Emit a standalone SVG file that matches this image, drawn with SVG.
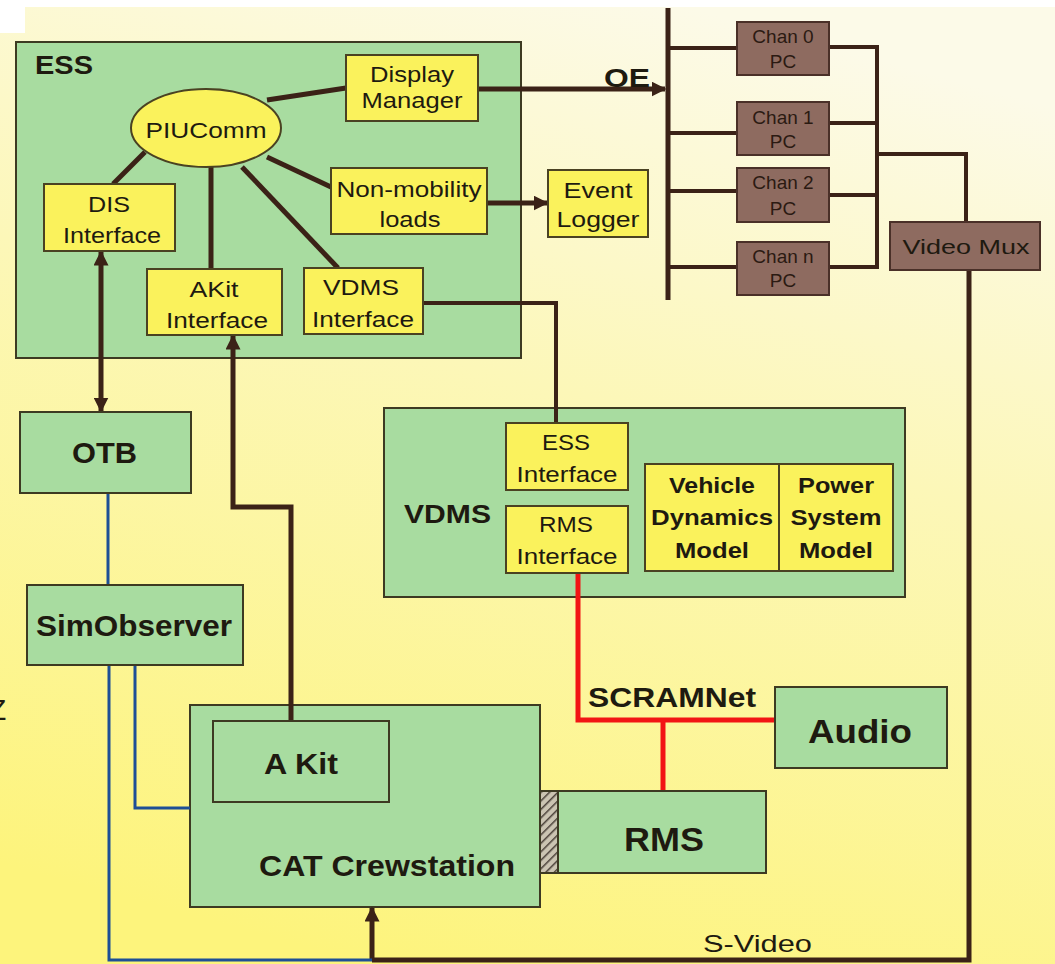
<svg xmlns="http://www.w3.org/2000/svg" width="1055" height="964" viewBox="0 0 1055 964">
<defs>
<linearGradient id="bg" x1="0.65" y1="0" x2="0.35" y2="1">
<stop offset="0" stop-color="#fcfae8"/>
<stop offset="0.4" stop-color="#fcf7b8"/>
<stop offset="1" stop-color="#fdf47c"/>
</linearGradient>
<pattern id="hatch" width="6" height="6" patternUnits="userSpaceOnUse" patternTransform="rotate(45)">
<rect width="6" height="6" fill="#cbc4b2"/>
<line x1="0" y1="0" x2="0" y2="6" stroke="#4a4038" stroke-width="3"/>
</pattern>
<marker id="ah" viewBox="0 0 10 10" refX="9" refY="5" markerWidth="3" markerHeight="3" orient="auto-start-reverse" markerUnits="strokeWidth">
<path d="M0,0 L10,5 L0,10 z" fill="#3b2217"/>
</marker>
<style>
.g{fill:#a8dca0;stroke:#3d3a22;stroke-width:2}
.y{fill:#faf25c;stroke:#4a4222;stroke-width:2}
.c{fill:#8e6b60;stroke:#4a3028;stroke-width:2}
.t{font-family:"Liberation Sans",Arial,sans-serif;fill:#1e1a10}
.b{font-weight:bold}
.m{text-anchor:middle}
.n{font-size:22px;text-anchor:middle}
.ch{font-size:19px;text-anchor:middle;fill:#2b1a12}
.k{stroke:#3b2217;stroke-width:5;fill:none}
.k4{stroke:#3b2217;stroke-width:4;fill:none}
.bl{stroke:#1d4f96;stroke-width:3;fill:none}
.r{stroke:#f21414;stroke-width:5;fill:none}
</style>
</defs>
<rect width="1055" height="964" fill="#ffffff"/>
<rect x="0" y="7" width="1055" height="957" fill="url(#bg)"/>
<rect x="0" y="0" width="25" height="33" fill="#ffffff"/>
<text class="t" x="-12" y="720" font-size="30">Z</text>

<g id="ESS">
<rect class="g" x="16" y="42" width="505" height="316"/>
<text class="t b" x="35" y="74" font-size="26" textLength="58" lengthAdjust="spacingAndGlyphs">ESS</text>
</g>
<g id="VDMS">
<rect class="g" x="384" y="408" width="521" height="189"/>
<text class="t b" x="404" y="523" font-size="26" textLength="87" lengthAdjust="spacingAndGlyphs">VDMS</text>
</g>
<g id="CATCrewstation">
<rect class="g" x="190" y="705" width="350" height="202"/>
<text class="t b" x="259" y="876" font-size="30" textLength="256" lengthAdjust="spacingAndGlyphs">CAT Crewstation</text>
</g>

<g id="connectors">
<line class="k" x1="267" y1="100" x2="346" y2="88"/>
<line class="k" x1="145" y1="152" x2="113" y2="184"/>
<line class="k" x1="211" y1="166" x2="211" y2="269"/>
<line class="k" x1="242" y1="167" x2="338" y2="268"/>
<line class="k" x1="267" y1="157" x2="331" y2="187"/>
<line class="k" x1="478" y1="89" x2="665" y2="89" marker-end="url(#ah)"/>
<line class="k" x1="487" y1="203" x2="547" y2="203" marker-end="url(#ah)"/>
<polyline class="k4" points="423,303 556,303 556,423"/>
<line class="k" x1="101" y1="252" x2="101" y2="411" marker-start="url(#ah)" marker-end="url(#ah)"/>
<polyline class="k" points="291,721 291,507 233,507 233,336" marker-end="url(#ah)"/>
<line class="k" x1="668" y1="8" x2="668" y2="300"/>
<line class="k4" x1="668" y1="48" x2="737" y2="48"/>
<line class="k4" x1="668" y1="133" x2="737" y2="133"/>
<line class="k4" x1="668" y1="191" x2="737" y2="191"/>
<line class="k4" x1="668" y1="267" x2="737" y2="267"/>
<line class="k4" x1="829" y1="47" x2="877" y2="47"/>
<line class="k4" x1="829" y1="123" x2="877" y2="123"/>
<line class="k4" x1="829" y1="195" x2="877" y2="195"/>
<line class="k4" x1="829" y1="267" x2="877" y2="267"/>
<line class="k4" x1="877" y1="45" x2="877" y2="269"/>
<polyline class="k4" points="877,154 966,154 966,222"/>
<polyline class="k" points="969,270 969,960 372,960"/>
<line class="k" x1="372" y1="960" x2="372" y2="908" marker-end="url(#ah)"/>
<line class="bl" x1="108" y1="493" x2="108" y2="585"/>
<polyline class="bl" points="109,665 109,960 372,960"/>
<polyline class="bl" points="135,665 135,808 190,808"/>
<polyline class="r" points="578,573 578,720 775,720"/>
<line class="r" x1="663" y1="720" x2="663" y2="791"/>
</g>

<g id="DisplayManager">
<rect class="y" x="346" y="55" width="132" height="66"/>
<text class="t n" x="412" y="82" textLength="84" lengthAdjust="spacingAndGlyphs">Display</text>
<text class="t n" x="412" y="108" textLength="101" lengthAdjust="spacingAndGlyphs">Manager</text>
</g>
<g id="PIUComm">
<ellipse cx="206" cy="128" rx="75" ry="39" fill="#faf25c" stroke="#4a4222" stroke-width="2"/>
<text class="t n" x="206" y="138" textLength="121" lengthAdjust="spacingAndGlyphs">PIUComm</text>
</g>
<g id="DISInterface">
<rect class="y" x="44" y="184" width="131" height="67"/>
<text class="t n" x="109" y="212" textLength="42" lengthAdjust="spacingAndGlyphs">DIS</text>
<text class="t n" x="112" y="243" textLength="98" lengthAdjust="spacingAndGlyphs">Interface</text>
</g>
<g id="AKitInterface">
<rect class="y" x="147" y="269" width="135" height="66"/>
<text class="t n" x="214" y="297" textLength="49" lengthAdjust="spacingAndGlyphs">AKit</text>
<text class="t n" x="217" y="328" textLength="102" lengthAdjust="spacingAndGlyphs">Interface</text>
</g>
<g id="VDMSInterface">
<rect class="y" x="304" y="268" width="119" height="66"/>
<text class="t n" x="361" y="295" textLength="76" lengthAdjust="spacingAndGlyphs">VDMS</text>
<text class="t n" x="363" y="327" textLength="102" lengthAdjust="spacingAndGlyphs">Interface</text>
</g>
<g id="NonMobility">
<rect class="y" x="331" y="168" width="156" height="66"/>
<text class="t n" x="409" y="197" textLength="145" lengthAdjust="spacingAndGlyphs">Non-mobility</text>
<text class="t n" x="410" y="227" textLength="61" lengthAdjust="spacingAndGlyphs">loads</text>
</g>
<g id="EventLogger">
<rect class="y" x="548" y="170" width="100" height="67"/>
<text class="t n" x="598" y="198" textLength="69" lengthAdjust="spacingAndGlyphs">Event</text>
<text class="t n" x="598" y="227" textLength="83" lengthAdjust="spacingAndGlyphs">Logger</text>
</g>
<g id="OE">
<text class="t b" x="604" y="87" font-size="26" textLength="46" lengthAdjust="spacingAndGlyphs">OE</text>
</g>
<g id="Chan0">
<rect class="c" x="737" y="22" width="92" height="53"/>
<text class="t ch" x="783" y="43">Chan 0</text>
<text class="t ch" x="783" y="68">PC</text>
</g>
<g id="Chan1">
<rect class="c" x="737" y="102" width="92" height="53"/>
<text class="t ch" x="783" y="124">Chan 1</text>
<text class="t ch" x="783" y="148">PC</text>
</g>
<g id="Chan2">
<rect class="c" x="737" y="168" width="92" height="54"/>
<text class="t ch" x="783" y="189">Chan 2</text>
<text class="t ch" x="783" y="215">PC</text>
</g>
<g id="ChanN">
<rect class="c" x="737" y="242" width="92" height="53"/>
<text class="t ch" x="783" y="263">Chan n</text>
<text class="t ch" x="783" y="287">PC</text>
</g>
<g id="VideoMux">
<rect class="c" x="890" y="222" width="150" height="48"/>
<text class="t m" x="966" y="254" font-size="21" fill="#2b1a12" textLength="127" lengthAdjust="spacingAndGlyphs">Video Mux</text>
</g>
<g id="OTB">
<rect class="g" x="20" y="412" width="171" height="81"/>
<text class="t b" x="72" y="463" font-size="30" textLength="65" lengthAdjust="spacingAndGlyphs">OTB</text>
</g>
<g id="SimObserver">
<rect class="g" x="27" y="585" width="216" height="80"/>
<text class="t b" x="36" y="636" font-size="30" textLength="196" lengthAdjust="spacingAndGlyphs">SimObserver</text>
</g>
<g id="ESSInterface">
<rect class="y" x="506" y="423" width="122" height="67"/>
<text class="t n" x="566" y="450" textLength="48" lengthAdjust="spacingAndGlyphs">ESS</text>
<text class="t n" x="567" y="482" textLength="101" lengthAdjust="spacingAndGlyphs">Interface</text>
</g>
<g id="RMSInterface">
<rect class="y" x="506" y="506" width="122" height="67"/>
<text class="t n" x="566" y="532" textLength="54" lengthAdjust="spacingAndGlyphs">RMS</text>
<text class="t n" x="567" y="564" textLength="101" lengthAdjust="spacingAndGlyphs">Interface</text>
</g>
<g id="VehicleDynamicsModel">
<rect class="y" x="645" y="464" width="134" height="107"/>
<text class="t b n" x="712" y="493" textLength="86" lengthAdjust="spacingAndGlyphs">Vehicle</text>
<text class="t b n" x="712" y="525" textLength="122" lengthAdjust="spacingAndGlyphs">Dynamics</text>
<text class="t b n" x="712" y="558" textLength="74" lengthAdjust="spacingAndGlyphs">Model</text>
</g>
<g id="PowerSystemModel">
<rect class="y" x="779" y="464" width="114" height="107"/>
<text class="t b n" x="836" y="493" textLength="76" lengthAdjust="spacingAndGlyphs">Power</text>
<text class="t b n" x="836" y="525" textLength="91" lengthAdjust="spacingAndGlyphs">System</text>
<text class="t b n" x="836" y="558" textLength="74" lengthAdjust="spacingAndGlyphs">Model</text>
</g>
<g id="SCRAMNet">
<text class="t b" x="588" y="707" font-size="28" textLength="168" lengthAdjust="spacingAndGlyphs">SCRAMNet</text>
</g>
<g id="Audio">
<rect class="g" x="775" y="687" width="172" height="81"/>
<text class="t b" x="808" y="743" font-size="34" textLength="104" lengthAdjust="spacingAndGlyphs">Audio</text>
</g>
<g id="AKit">
<rect class="g" x="213" y="721" width="176" height="81"/>
<text class="t b" x="264" y="774" font-size="30" textLength="74" lengthAdjust="spacingAndGlyphs">A Kit</text>
</g>
<g id="RMS">
<rect x="540" y="791" width="18" height="82" fill="url(#hatch)" stroke="#3d3a22" stroke-width="2"/>
<rect class="g" x="558" y="791" width="208" height="82"/>
<text class="t b" x="624" y="851" font-size="34" textLength="80" lengthAdjust="spacingAndGlyphs">RMS</text>
</g>
<g id="SVideo">
<text class="t" x="703" y="952" font-size="24" textLength="109" lengthAdjust="spacingAndGlyphs">S-Video</text>
</g>
</svg>
